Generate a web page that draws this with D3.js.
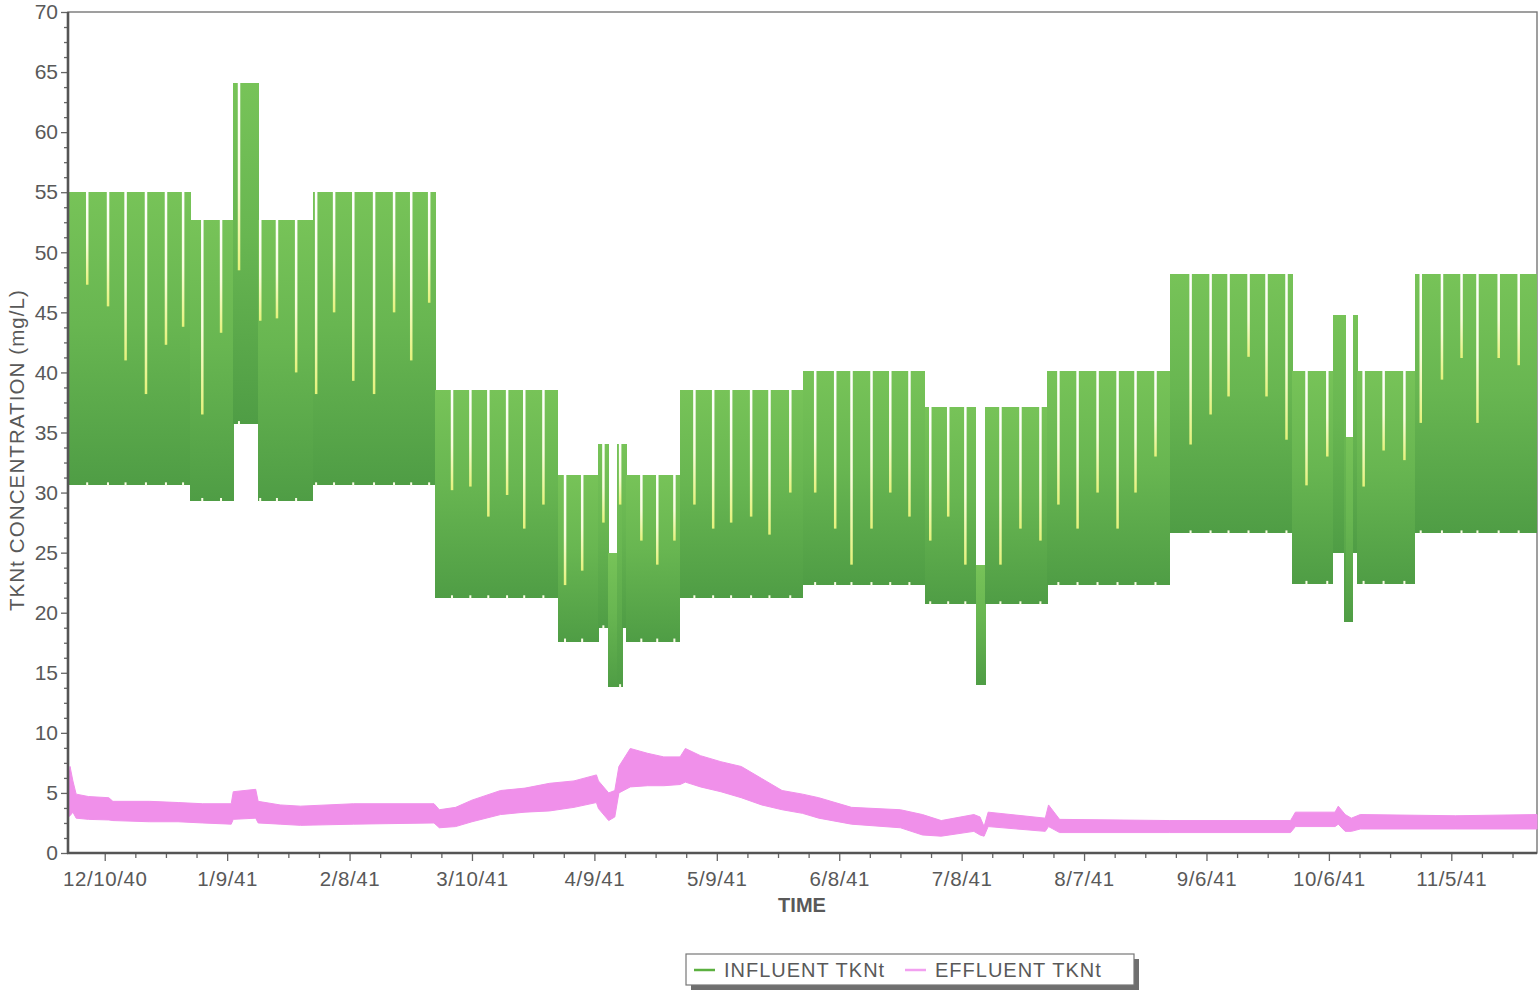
<!DOCTYPE html>
<html>
<head>
<meta charset="utf-8">
<script src="https://cdn.jsdelivr.net/npm/d3@7"></script>
<style>
  body { margin: 0; background: #fff; }
  svg { display: block; font-family: "Liberation Sans", Arial, sans-serif; }
</style>
</head>
<body>
<svg id="chart" width="1540" height="991"></svg>
<script>
// TKNt influent / effluent, daily simulation (day 0 = 12/1/40)

// x axis labels (every 30 days)
const xTickLabels = ["12/10/40", "1/9/41", "2/8/41", "3/10/41", "4/9/41", "5/9/41",
  "6/8/41", "7/8/41", "8/7/41", "9/6/41", "10/6/41", "11/5/41"];
const yTickValues = [0, 5, 10, 15, 20, 25, 30, 35, 40, 45, 50, 55, 60, 65, 70];

// influent: step blocks (day boundaries, daily max, daily min)
const blockDays = [0, 30, 40.5, 46.6, 60, 90, 120, 130, 132.4, 134.6, 135.8, 136.8, 150, 180,
  210, 222.4, 224.8, 240, 270, 300, 310, 312.6, 313.1, 314.8, 316, 330, 360];
const blockHigh = [55, 52.7, 64.1, 52.7, 55, 38.5, 31.5, 34.05, 25, 34.05, 34.05, 31.5, 38.5,
  40.1, 37.1, 24, 37.1, 40.1, 48.2, 40.1, 44.8, 44.8, 34.6, 44.8, 40.1, 48.2];
const blockLow = [30.6, 29.3, 35.7, 29.3, 30.6, 21.2, 17.6, 18.7, 13.8, 13.8, 18.7, 17.6, 21.2,
  22.3, 20.7, 14.0, 20.7, 22.3, 26.6, 22.4, 25, 19.2, 19.2, 25, 22.4, 26.6];

// influent: pale vertical gaps (day, value where the gap ends)
const gapDays = [4.7, 9.8, 14.1, 19.1, 24.0, 28.2, 32.9, 37.5, 41.9, 47.1, 51.2, 55.9,
  60.8, 65.2, 69.9, 75.0, 79.9, 84.1, 88.5, 94.1, 98.6, 103.0, 107.6, 111.8, 116.5,
  121.8, 126.0, 131.2, 135.3, 140.5, 144.4, 148.6, 153.5, 158.1, 162.5, 167.4, 171.9, 177.0,
  183.1, 188.0, 192.0, 196.9, 201.5, 206.2, 211.3, 215.7, 219.9, 228.5, 233.4, 238.3,
  242.7, 247.4, 252.3, 257.2, 261.6, 266.5, 275.1, 280.0, 284.4, 289.3, 293.7, 298.6,
  303.5, 308.6, 317.5, 322.4, 327.5, 331.5, 336.7, 341.5, 345.4, 350.6, 355.5];
const gapDepth = [47.3, 45.5, 41, 38.2, 42.3, 43.8, 36.5, 43.3, 48.5, 44.3, 44.5, 40,
  38.2, 45, 39.3, 38.2, 45, 41, 45.8, 30.2, 30.5, 28, 29.8, 27, 29,
  22.3, 23.5, 27.5, 29, 26, 24, 26, 29, 27, 27.5, 28, 26.5, 30,
  30, 27, 24, 27, 30, 28, 26, 28, 24, 24, 27, 26,
  29, 27, 30, 27, 30, 33, 34, 36.5, 38, 41.3, 38, 34.4,
  30.6, 33, 30.5, 33.5, 32.7, 35.8, 39.4, 41.2, 35.8, 41.2, 40.6];

// effluent band (day, upper, lower)
const effDays = [0, 0.5, 1.2, 2, 5, 10, 11, 20, 27, 33, 40, 40.5, 46, 46.6, 52, 57, 70, 89.7, 91, 95, 99,
  106, 112, 118, 124, 129.5, 130, 132.5, 134, 135, 137.8, 142, 146, 150, 151.3, 155, 160, 165, 170, 175, 180, 184, 192,
  204, 209.4, 214, 222, 223.5, 224.5, 225.5, 239.5, 240.3, 243, 270, 299.6, 300.8, 310.5, 311.3,
  313, 314.5, 316.7, 340, 360];
const effHigh = [5.5, 7.2, 6.0, 4.9, 4.7, 4.6, 4.3, 4.3, 4.2, 4.1, 4.1, 5.1, 5.3, 4.3, 4.0, 3.9, 4.1, 4.1, 3.6, 3.8, 4.4,
  5.2, 5.4, 5.8, 6.0, 6.5, 6.0, 5.0, 5.2, 7.2, 8.7, 8.3, 8.0, 8.0, 8.7, 8.1, 7.6, 7.2, 6.2, 5.2, 4.9, 4.6, 3.8,
  3.6, 3.2, 2.7, 3.2, 3.0, 2.2, 3.4, 2.9, 4.0, 2.8, 2.7, 2.7, 3.4, 3.4, 3.9,
  3.2, 2.9, 3.2, 3.1, 3.2];
const effLow = [3.0, 3.1, 3.4, 2.9, 2.8, 2.75, 2.7, 2.6, 2.6, 2.5, 2.4, 2.8, 2.9, 2.5, 2.4, 2.3, 2.4, 2.5, 2.1, 2.2, 2.6,
  3.2, 3.4, 3.5, 3.8, 4.2, 3.7, 2.7, 3.0, 5.0, 5.5, 5.6, 5.6, 5.7, 5.9, 5.5, 5.1, 4.6, 4.0, 3.6, 3.3, 2.9, 2.4,
  2.1, 1.5, 1.4, 1.8, 1.5, 1.4, 2.2, 1.8, 2.2, 1.7, 1.7, 1.7, 2.2, 2.2, 2.4,
  1.8, 1.8, 2.0, 2.0, 2.0];

const plot = { left: 68, right: 1537, top: 12, bottom: 853 };
const textColor = "#595959";

const svg = d3.select("#chart");
const parseDate = d3.utcParse("%m/%d/%y");
const fmtDate = d3.utcFormat("%-m/%-d/%y");
const day0 = Date.UTC(2040, 11, 1);
const toDate = (d) => new Date(day0 + d * 864e5);

const x = d3.scaleUtc()
  .domain([toDate(0), toDate(360)])
  .range([plot.left, plot.right]);
const y = d3.scaleLinear().domain([0, 70]).range([plot.bottom, plot.top]);

const defs = svg.append("defs");
const grad = defs.append("linearGradient")
  .attr("id", "infGrad").attr("x1", 0).attr("y1", 0).attr("x2", 0).attr("y2", 1);
grad.append("stop").attr("offset", "0%").attr("stop-color", "#77c358");
grad.append("stop").attr("offset", "45%").attr("stop-color", "#68b651");
grad.append("stop").attr("offset", "100%").attr("stop-color", "#4f9d45");

const gapGrad = defs.append("linearGradient")
  .attr("id", "gapGrad").attr("x1", 0).attr("y1", 0).attr("x2", 0).attr("y2", 1);
gapGrad.append("stop").attr("offset", "0%").attr("stop-color", "#ffffff");
gapGrad.append("stop").attr("offset", "55%").attr("stop-color", "#f9fcdc");
gapGrad.append("stop").attr("offset", "100%").attr("stop-color", "#e4f27a");

// frame (top / right)
svg.append("rect")
  .attr("x", plot.left).attr("y", plot.top)
  .attr("width", plot.right - plot.left).attr("height", plot.bottom - plot.top)
  .attr("fill", "none").attr("stroke", "#777").attr("stroke-width", 1.4);

// influent blocks
const blocks = blockHigh.map((h, i) => ({ s: blockDays[i], e: blockDays[i + 1], hi: h, lo: blockLow[i] }));
svg.append("g").selectAll("rect")
  .data(blocks)
  .join("rect")
  .attr("x", (d) => x(toDate(d.s)))
  .attr("width", (d) => x(toDate(d.e)) - x(toDate(d.s)) + 0.4)
  .attr("y", (d) => y(d.hi))
  .attr("height", (d) => y(d.lo) - y(d.hi))
  .attr("fill", "url(#infGrad)")
  .attr("shape-rendering", "crispEdges");

// pale vertical gaps inside the band, plus the small notches on the lower edge
const blockAt = (d) => blocks[Math.max(0, d3.bisectRight(blockDays, d) - 1)];
const gaps = gapDays.map((d, i) => {
  const b = blockAt(d);
  return { day: d, top: b.hi, lo: b.lo, depth: gapDepth[i] };
});
const gapG = svg.append("g");
gapG.selectAll("rect.gap")
  .data(gaps)
  .join("rect")
  .attr("class", "gap")
  .attr("x", (d) => x(toDate(d.day)) - 1.2)
  .attr("width", 2.5)
  .attr("y", (d) => y(d.top) - 0.5)
  .attr("height", (d) => y(d.depth) - y(d.top) + 0.5)
  .attr("fill", "url(#gapGrad)");
gapG.selectAll("rect.notch")
  .data(gaps)
  .join("rect")
  .attr("class", "notch")
  .attr("x", (d) => x(toDate(d.day)) - 1)
  .attr("width", 2)
  .attr("y", (d) => y(d.lo) - 3)
  .attr("height", 3.5)
  .attr("fill", "#fbfde8");

// effluent band
const eff = effDays.map((d, i) => ({ day: d, hi: effHigh[i], lo: effLow[i] }));
svg.append("path")
  .datum(eff)
  .attr("fill", "#f090ea")
  .attr("stroke", "#f090ea")
  .attr("stroke-width", 1)
  .attr("d", d3.area()
    .x((d) => x(toDate(d.day)))
    .y0((d) => y(d.lo))
    .y1((d) => y(d.hi)));

// x axis
const xMajor = xTickLabels.map(parseDate);
const xMinor = [];
xMajor.forEach((t) => [7.5, 15, 22.5].forEach((o) => {
  const m = new Date(+t + o * 864e5);
  if (m <= x.domain()[1]) xMinor.push(m);
}));
const xAxisG = svg.append("g").attr("transform", `translate(0,${plot.bottom})`);
xAxisG.call(d3.axisBottom(x).tickValues(xMinor).tickSize(5).tickFormat(""));
xAxisG.append("g").call(d3.axisBottom(x).tickValues(xMajor).tickSize(8).tickPadding(10).tickFormat(fmtDate));
xAxisG.selectAll(".domain").remove();
xAxisG.selectAll("line").attr("stroke", "#666").attr("stroke-width", 1.3);
xAxisG.selectAll("text")
  .attr("fill", textColor).attr("font-size", 20.5).style("letter-spacing", "0.6px")
  .attr("font-family", "Liberation Sans, Arial, sans-serif");

// y axis
const yMinor = d3.range(0, 70.01, 1.25).filter((v) => v % 5 !== 0);
const yAxisG = svg.append("g").attr("transform", `translate(${plot.left},0)`);
yAxisG.call(d3.axisLeft(y).tickValues(yMinor).tickSize(4).tickFormat(""));
yAxisG.append("g").call(d3.axisLeft(y).tickValues(yTickValues).tickSize(7).tickPadding(3).tickFormat(d3.format("d")));
yAxisG.selectAll(".domain").remove();
yAxisG.selectAll("line").attr("stroke", "#666").attr("stroke-width", 1.3);
yAxisG.selectAll("text")
  .attr("fill", textColor).attr("font-size", 21)
  .attr("font-family", "Liberation Sans, Arial, sans-serif");

// heavy axis lines
svg.append("line")
  .attr("x1", plot.left).attr("x2", plot.left).attr("y1", plot.top).attr("y2", plot.bottom + 1)
  .attr("stroke", "#555").attr("stroke-width", 2.6);
svg.append("line")
  .attr("x1", plot.left - 1).attr("x2", plot.right).attr("y1", plot.bottom).attr("y2", plot.bottom)
  .attr("stroke", "#555").attr("stroke-width", 2.6);

// axis titles
svg.append("text")
  .attr("x", 802).attr("y", 912)
  .attr("text-anchor", "middle")
  .attr("font-size", 20).attr("font-weight", "bold")
  .attr("fill", textColor)
  .text("TIME");

svg.append("text")
  .attr("transform", "translate(24,450) rotate(-90)")
  .attr("text-anchor", "middle")
  .attr("font-size", 20.5)
  .style("letter-spacing", "1.1px")
  .attr("fill", textColor)
  .text("TKNt CONCENTRATION (mg/L)");

// legend
const lg = svg.append("g").attr("transform", "translate(686,954)");
lg.append("rect").attr("x", 5).attr("y", 5).attr("width", 448).attr("height", 31).attr("fill", "#6f6f6f");
lg.append("rect").attr("x", 0).attr("y", 0).attr("width", 448).attr("height", 31)
  .attr("fill", "#fff").attr("stroke", "#777").attr("stroke-width", 1.2);
const legendItems = [
  { label: "INFLUENT TKNt", color: "#5cb040", x: 8 },
  { label: "EFFLUENT TKNt", color: "#f2a0f0", x: 219 },
];
legendItems.forEach((it) => {
  lg.append("line")
    .attr("x1", it.x).attr("x2", it.x + 21).attr("y1", 16).attr("y2", 16)
    .attr("stroke", it.color).attr("stroke-width", 2.5);
  lg.append("text")
    .attr("x", it.x + 30).attr("y", 23)
    .attr("font-size", 20).style("letter-spacing", "1px")
    .attr("fill", textColor)
    .text(it.label);
});
</script>
</body>
</html>
